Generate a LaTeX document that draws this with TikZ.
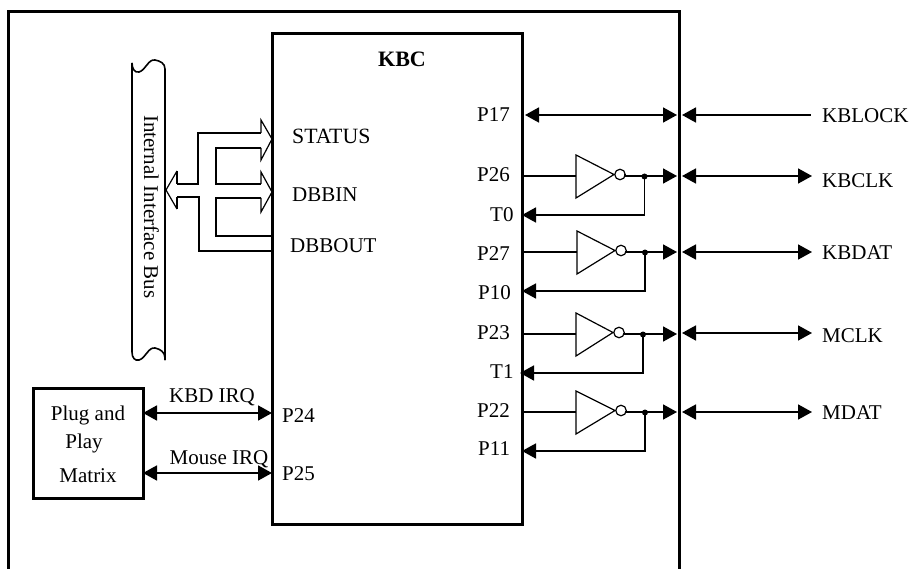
\documentclass[tikz,border=0pt]{standalone}
\usepackage{fontspec}
\setmainfont{Liberation Serif}
\usetikzlibrary{arrows.meta,calc}
\tikzset{
  frame/.style={line width=3pt},
  bus/.style={line width=1.8pt,line join=miter},
  hollow/.style={line width=1.2pt,line join=miter},
  wire/.style={line width=1.7pt},
  dbl/.style={wire,{Triangle[length=14pt,width=15pt]}-{Triangle[length=14pt,width=15pt]}},
  tipend/.style={wire,-{Triangle[length=14pt,width=15pt]}},
  tipstart/.style={wire,{Triangle[length=14pt,width=15pt]}-},
  inv/.style={line width=1.2pt,line join=miter},
  lbl/.style={inner sep=0pt,font=\fontsize{21}{24}\selectfont,text=black,text height=13.5pt,text depth=0pt,yshift=-0.8pt},
  lblw/.style={lbl,anchor=west},
  box/.style={draw,frame,inner sep=0pt,outer sep=0pt,anchor=north west},
  jdot/.style={circle,fill=black,inner sep=0pt,minimum size=6pt},
  bubble/.style={circle,draw,line width=1.2pt,fill=white,inner sep=0pt,outer sep=0pt,minimum size=10.5pt}
}
\begin{document}
\begin{tikzpicture}[x=1pt,y=-1pt]
\useasboundingbox (0,0) rectangle (909,569);
% outer frame
\draw[frame] (8,569) -- (8,12) -- (679,12) -- (679,569);
% KBC
\node[box,minimum width=250pt,minimum height=490pt] (kbc) at (272,34) {};
\node[lbl,font=\fontsize{22}{24}\selectfont\bfseries] (kbct) at (402,59) {KBC};
% bus
\draw[line width=1.6pt] (132,63) -- (132,352) .. controls (132,358) and (135,361) .. (139,360) .. controls (146,358) and (148,347) .. (155,348) .. controls (160,349) and (165,352) .. (165,358) -- (165,360);
\draw[line width=1.6pt] (132,63) .. controls (132,69) and (135,73) .. (139,72) .. controls (146,70) and (148,59) .. (155,60) .. controls (160,61) and (165,63) .. (165,69) -- (165,360);
\node[lbl,rotate=-90,yshift=0.8pt] (busl) at (150,206) {Internal Interface Bus};
% hollow bus arrows
\coordinate (h1) at (272,139);
\coordinate (h2) at (272,192);
\coordinate (ho) at (166,190);
\draw[bus] (177,184) -- (198,184) -- (198,133) -- (261,133);
\draw[bus] (261,148) -- (216,148) -- (216,184) -- (261,184);
\draw[bus] (261,198) -- (216,198) -- (216,236) -- (kbc.west |- 0,236);
\draw[bus] (kbc.west |- 0,251) -- (199,251) -- (199,197) -- (177,197);
\draw[hollow] (261,133) -- (261,120) -- (h1) -- (261,160) -- (261,148);
\draw[hollow] (261,184) -- (261,172) -- (h2) -- (261,212) -- (261,198);
\draw[bus] (177,184) -- (177,171);
\draw[bus] (177,197) -- (177,209);
\draw[hollow] (177,171) -- (ho) -- (177,209);
% labels left in KBC
\node[lblw,font=\fontsize{21.8}{24}\selectfont] (lst) at (292,136) {STATUS};
\node[lblw] (ldi) at (292,194) {DBBIN};
\node[lblw] (ldo) at (290,245) {DBBOUT};
\node[lblw] (p24) at (282,415) {P24};
\node[lblw] (p25) at (282,473) {P25};
% Plug and Play
\node[box,minimum width=110pt,minimum height=110pt] (pnp) at (33,388) {};
\node[lbl] (pl1) at (88,413) {Plug and};
\node[lbl] (pl2) at (84,441) {Play};
\node[lbl] (pl3) at (88,475) {Matrix};
\draw[dbl] (pnp.east |- 0,413) -- (kbc.west |- 0,413);
\draw[dbl] (pnp.east |- 0,473) -- (kbc.west |- 0,473);
\node[lbl] (kirq) at (212,395) {KBD IRQ};
\node[lbl] (mirq) at (219,457) {Mouse IRQ};
% P17 / KBLOCK
\coordinate (p17a) at (525,115);
\coordinate (p17b) at (677,115);
\coordinate (kla) at (682,115);
\coordinate (klb) at (811,115);
\draw[dbl] (p17a) -- (p17b);
\draw[tipstart] (kla) -- (klb);
\node[lblw] (kl) at (822,115) {KBLOCK};
% inverter channels
\foreach \i/\wy/\tx/\tt/\tb/\px/\py/\bx/\dx/\low/\tipl in {
  1/176/576/155/198/614/174.5/620/644.5/215/522,
  2/252/577/231/274/615/250.5/621/645/291/522,
  3/334/576/313/356/613/332.5/619/643/373/520,
  4/412/576/391/434/615/410.5/621/645/451/522}{
  \draw[wire] (kbc.east |- 0,\wy) -- (\tx,\wy);
  \draw[inv] (\tx,\tt) -- (\tx,\tb) -- (\px,\py) -- cycle;
  \node[bubble] (bub\i) at (\bx,\py) {};
  \draw[wire] (bub\i.east) -- (\bx+5.25,\wy) -- (\dx,\wy);
  \node[jdot] (jd\i) at (\dx,\wy+0.5) {};
  \draw[tipend] (jd\i.center) ++(0,-0.5) -- (677,\wy);
  \draw[tipstart] (\tipl,\low) -- (\dx,\low) -- (jd\i.center);
}
% external lines
\foreach \i/\wy/\t/\ly in {1/176/KBCLK/180,2/252/KBDAT/252,3/333/MCLK/335,4/412/MDAT/412}{
  \draw[dbl] (682,\wy) -- (812,\wy);
  \node[lblw] (ext\i) at (822,\ly) {\t};
}
% pin labels
\node[lblw] (pa) at (477,114) {P17};
\node[lblw] (pb) at (477,174) {P26};
\node[lblw] (pc) at (490,214) {T0};
\node[lblw] (pd) at (477,253) {P27};
\node[lblw] (pe) at (478,292) {P10};
\node[lblw] (pf) at (477,332) {P23};
\node[lblw] (pg) at (490,371) {T1};
\node[lblw] (ph) at (477,410) {P22};
\node[lblw] (pi) at (478,448) {P11};
\end{tikzpicture}
\end{document}
